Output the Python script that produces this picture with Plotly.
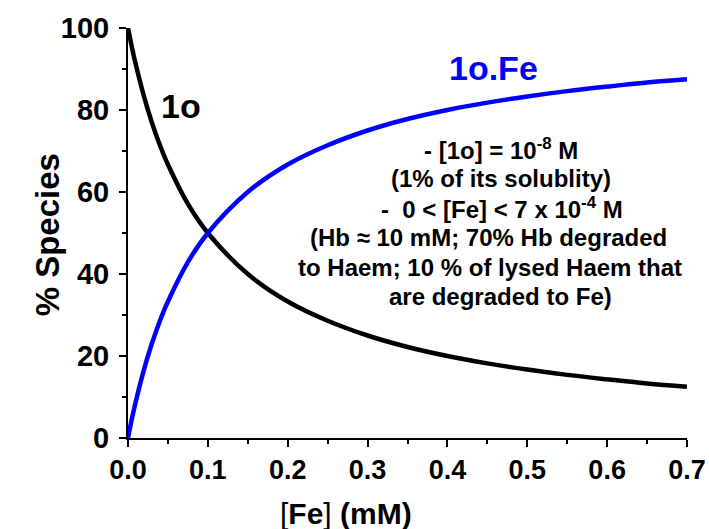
import plotly.graph_objects as go

fe_mM = [0.0, 0.005, 0.01, 0.02, 0.03, 0.04, 0.05, 0.075, 0.1, 0.15, 0.2, 0.25, 0.3, 0.35, 0.4, 0.45, 0.5, 0.55, 0.6, 0.65, 0.7]
pct_1o = [100, 95.2, 90.9, 83.3, 76.9, 71.4, 66.7, 57.1, 50.0, 40.0, 33.3, 28.6, 25.0, 22.2, 20.0, 18.2, 16.7, 15.4, 14.3, 13.3, 12.5]
pct_1oFe = [0, 4.8, 9.1, 16.7, 23.1, 28.6, 33.3, 42.9, 50.0, 60.0, 66.7, 71.4, 75.0, 77.8, 80.0, 81.8, 83.3, 84.6, 85.7, 86.7, 87.5]

x_ticks = [0.0, 0.1, 0.2, 0.3, 0.4, 0.5, 0.6, 0.7]
x_ticklabels = ["0.0", "0.1", "0.2", "0.3", "0.4", "0.5", "0.6", "0.7"]
y_ticks = [0, 20, 40, 60, 80, 100]

note_lines = [
    "- [1o] = 10<sup>-8</sup> M",
    "(1% of its solublity)",
    "-  0 &lt; [Fe] &lt; 7 x 10<sup>-4</sup> M",
    "(Hb ≈ 10 mM; 70% Hb degraded",
    "to Haem; 10 % of lysed Haem that",
    "are degraded to Fe)",
]
note_x = [0.467, 0.467, 0.468, 0.452, 0.453, 0.467]
note_y = [70.5, 63.4, 56.0, 48.9, 41.6, 34.4]

FONT = "Liberation Sans, Arial, sans-serif"

fig = go.Figure()
fig.add_trace(go.Scatter(x=fe_mM, y=pct_1o, mode="lines", line=dict(color="black", width=4.5, shape="spline"), showlegend=False))
fig.add_trace(go.Scatter(x=fe_mM, y=pct_1oFe, mode="lines", line=dict(color="#0000ff", width=4.5, shape="spline"), showlegend=False))

fig.add_annotation(x=0.066, y=81, text="<b>1o</b>", showarrow=False, font=dict(family=FONT, size=34, color="black"))
fig.add_annotation(x=0.458, y=90.2, text="<b>1o.Fe</b>", showarrow=False, font=dict(family=FONT, size=34, color="#0000ff"))
for t, xx, yy in zip(note_lines, note_x, note_y):
    fig.add_annotation(x=xx, y=yy, text="<b>" + t + "</b>", showarrow=False,
                       font=dict(family=FONT, size=24, color="black"))

# axis titles
fig.add_annotation(xref="paper", yref="paper", x=0.39, y=-0.183, yanchor="middle",
                   text="[<b>Fe</b>] <b>(mM)</b>", showarrow=False,
                   font=dict(family=FONT, size=30, color="black"))
fig.add_annotation(xref="paper", yref="paper", x=-0.181, y=0.495, textangle=-90,
                   text="<b>% Species</b>", showarrow=False,
                   font=dict(family=FONT, size=33, color="black"))

fig.update_layout(
    width=709, height=529,
    margin=dict(l=128, r=22, t=28, b=91, autoexpand=False),
    plot_bgcolor="white", paper_bgcolor="white",
    font=dict(family=FONT, color="black"),
)
fig.update_xaxes(
    range=[0, 0.7], tickvals=x_ticks, ticktext=["<b>%s</b>" % s for s in x_ticklabels],
    showgrid=False, zeroline=False, showline=True, linecolor="black", linewidth=2,
    ticks="outside", ticklen=7, tickwidth=2, tickcolor="black",
    tickfont=dict(family=FONT, size=27, color="black"),
    minor=dict(ticks="outside", ticklen=4, tickwidth=2, tickcolor="black", dtick=0.05),
    automargin=False,
)
fig.update_yaxes(
    range=[0, 100], tickvals=y_ticks, ticktext=["<b>%d</b>" % v for v in y_ticks],
    showgrid=False, zeroline=False, showline=True, linecolor="black", linewidth=2,
    ticks="outside", ticklen=7, tickwidth=2, tickcolor="black",
    tickfont=dict(family=FONT, size=29, color="black"),
    ticklabelstandoff=4,
    minor=dict(ticks="outside", ticklen=4, tickwidth=2, tickcolor="black", dtick=10),
    automargin=False,
)

fig.write_html("out.html")
